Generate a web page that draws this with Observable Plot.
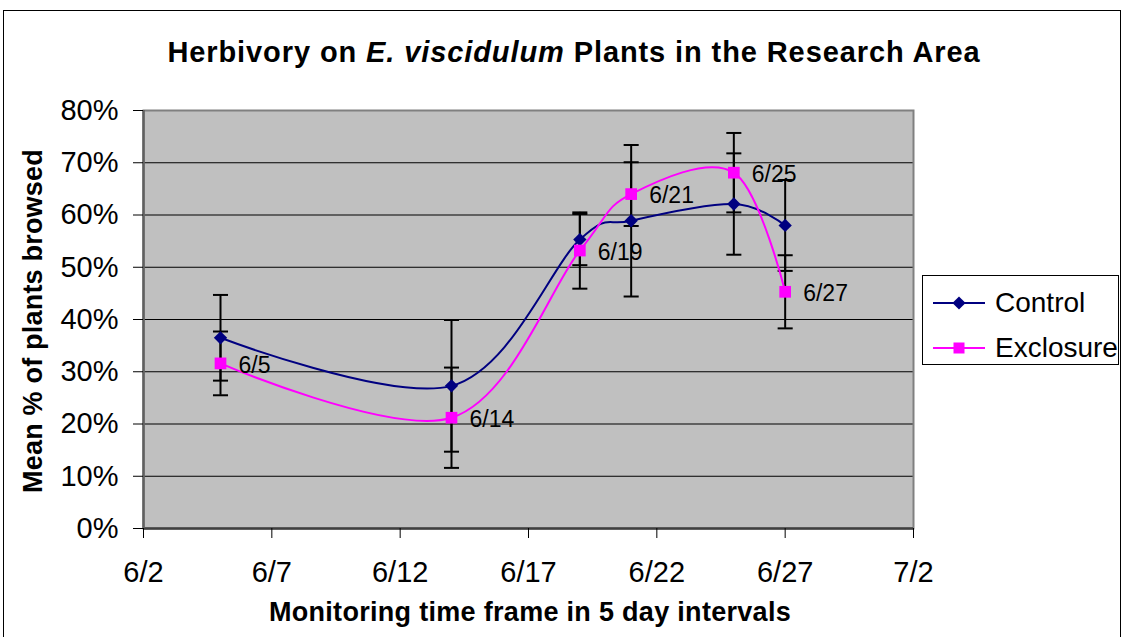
<!DOCTYPE html>
<html><head><meta charset="utf-8">
<script src="https://cdn.jsdelivr.net/npm/d3@7"></script>
<script src="https://cdn.jsdelivr.net/npm/@observablehq/plot@0.6"></script>
<style>
body{margin:0;background:#fff;font-family:"Liberation Sans",Arial,sans-serif;color:#000;}
#wrap{position:relative;width:1124px;height:637px;overflow:hidden;background:#fff;}
#border{position:absolute;left:3px;top:10px;width:1116px;height:660px;border:1.5px solid #000;}
#chart{position:absolute;left:0;top:0;}
#title{position:absolute;left:0;width:1148px;top:38px;text-align:center;font-weight:bold;font-size:29px;line-height:29px;letter-spacing:0.9px;white-space:nowrap;}
#xtitle{position:absolute;left:0;width:1060px;top:599px;text-align:center;font-weight:bold;font-size:27px;line-height:27px;letter-spacing:0.3px;white-space:nowrap;}
#ytitle{position:absolute;left:33px;top:321px;transform:translate(-50%,-50%) rotate(-90deg);font-weight:bold;font-size:27px;line-height:27px;letter-spacing:0.2px;white-space:nowrap;}
#legend{position:absolute;left:922px;top:275px;width:197px;height:90px;border:1px solid #000;background:#fff;box-sizing:border-box;}
.item{position:absolute;left:10px;height:30px;display:flex;align-items:center;font-size:28px;}
.item svg{margin-right:8px;}
</style>
</head><body>
<div id="wrap">
  <div id="border"></div>
  <div id="chart"></div>
  <div id="title">Herbivory on <i>E. viscidulum</i> Plants in the Research Area</div>
  <div id="xtitle">Monitoring time frame in 5 day intervals</div>
  <div id="ytitle">Mean % of plants browsed</div>
  <div id="legend"></div>
</div>
<script>
// ---- data ----
const dates = ["2007-06-05","2007-06-14","2007-06-19","2007-06-21","2007-06-25","2007-06-27"];
const pointLabels = ["6/5","6/14","6/19","6/21","6/25","6/27"];
const controlMean = [36.5, 27.3, 55.3, 58.9, 62.1, 58.0];
const controlErr  = [8.2, 12.6, 4.9, 14.5, 9.7, 8.7];
const exclosureMean = [31.6, 21.2, 53.2, 64.0, 68.1, 45.3];
const exclosureErr  = [6.1, 9.6, 7.3, 6.1, 7.6, 7.0];
const seriesNames = ["Control", "Exclosure"];
const seriesColors = ["#000080", "#FF00FF"];
const xTickDates = ["2007-06-02","2007-06-07","2007-06-12","2007-06-17","2007-06-22","2007-06-27","2007-07-02"];
const yTicks = [0,10,20,30,40,50,60,70,80];

// ---- build rows ----
const parse = d3.utcParse("%Y-%m-%d");
const rows = [];
dates.forEach((d, i) => {
  rows.push({series: "Control", date: parse(d), mean: controlMean[i], err: controlErr[i], label: pointLabels[i]});
  rows.push({series: "Exclosure", date: parse(d), mean: exclosureMean[i], err: exclosureErr[i], label: pointLabels[i]});
});
const control = rows.filter(r => r.series === "Control");
const exclosure = rows.filter(r => r.series === "Exclosure");
const xTicksParsed = xTickDates.map(parse);

const capSymbol = {draw(ctx, size){ const w = Math.sqrt(size) / 2; ctx.moveTo(-w, 0); ctx.lineTo(w, 0); }};

const chart = Plot.plot({
  width: 1124, height: 637,
  marginLeft: 143, marginRight: 211, marginTop: 110, marginBottom: 109,
  style: {fontFamily: "'Liberation Sans', Arial, sans-serif", fontSize: "29px", background: "transparent", color: "#000"},
  x: {type: "utc", domain: [xTicksParsed[0], xTicksParsed[xTicksParsed.length - 1]]},
  y: {domain: [0, 80]},
  marks: [
    Plot.frame({fill: "#C0C0C0", stroke: null}),
    Plot.gridY(yTicks.slice(1, -1), {stroke: "#000", strokeOpacity: 1, strokeWidth: 1.2}),
    Plot.frame({stroke: "#808080", strokeWidth: 2}),
    Plot.ruleY([0], {stroke: "#404040", strokeWidth: 2.5}),
    Plot.ruleX([xTicksParsed[0]], {stroke: "#606060", strokeWidth: 2.5}),
    Plot.axisX(xTicksParsed, {tickFormat: d3.utcFormat("%-m/%-d"), tickSize: 10, tickPadding: 23, fontSize: 29, label: null, stroke: "#000"}),
    Plot.axisY(yTicks, {tickFormat: d => d + "%", tickSize: 10, tickPadding: 15, fontSize: 29, label: null, stroke: "#000"}),
    // error bars
    Plot.ruleX(rows, {x: "date", y1: d => d.mean - d.err, y2: d => d.mean + d.err, stroke: "#000", strokeWidth: 2}),
    Plot.dot(rows, {x: "date", y: d => d.mean - d.err, symbol: capSymbol, r: 8.5, stroke: "#000", strokeWidth: 2, fill: "none"}),
    Plot.dot(rows, {x: "date", y: d => d.mean + d.err, symbol: capSymbol, r: 8.5, stroke: "#000", strokeWidth: 2, fill: "none"}),
    // lines
    Plot.line(control, {x: "date", y: "mean", stroke: seriesColors[0], strokeWidth: 2, curve: "cardinal"}),
    Plot.line(exclosure, {x: "date", y: "mean", stroke: seriesColors[1], strokeWidth: 2, curve: "cardinal"}),
    // markers
    Plot.dot(control, {x: "date", y: "mean", symbol: "diamond2", r: 6, fill: seriesColors[0], stroke: null}),
    Plot.dot(exclosure, {x: "date", y: "mean", symbol: "square", r: 6.6, fill: seriesColors[1], stroke: null}),
    // point labels
    Plot.text(exclosure, {x: "date", y: "mean", text: "label", textAnchor: "start", dx: 18, dy: 2, fontSize: 23, fill: "#000"})
  ]
});
document.getElementById("chart").appendChild(chart);

// legend
const legend = document.getElementById("legend");
seriesNames.forEach((name, i) => {
  const item = document.createElement("div");
  item.className = "item";
  item.style.top = (i === 0 ? 12 : 57) + "px";
  const svg = d3.create("svg").attr("width", 54).attr("height", 20);
  svg.append("line").attr("x1", 0).attr("x2", 52).attr("y1", 10).attr("y2", 10).attr("stroke", seriesColors[i]).attr("stroke-width", 2);
  if (i === 0) {
    svg.append("path").attr("d", d3.symbol(d3.symbolDiamond2, 110)()).attr("transform", "translate(26,10)").attr("fill", seriesColors[i]);
  } else {
    svg.append("rect").attr("x", 20.5).attr("y", 4.5).attr("width", 11).attr("height", 11).attr("fill", seriesColors[i]);
  }
  item.appendChild(svg.node());
  const span = document.createElement("span");
  span.textContent = name;
  item.appendChild(span);
  legend.appendChild(item);
});
</script>
</body></html>
